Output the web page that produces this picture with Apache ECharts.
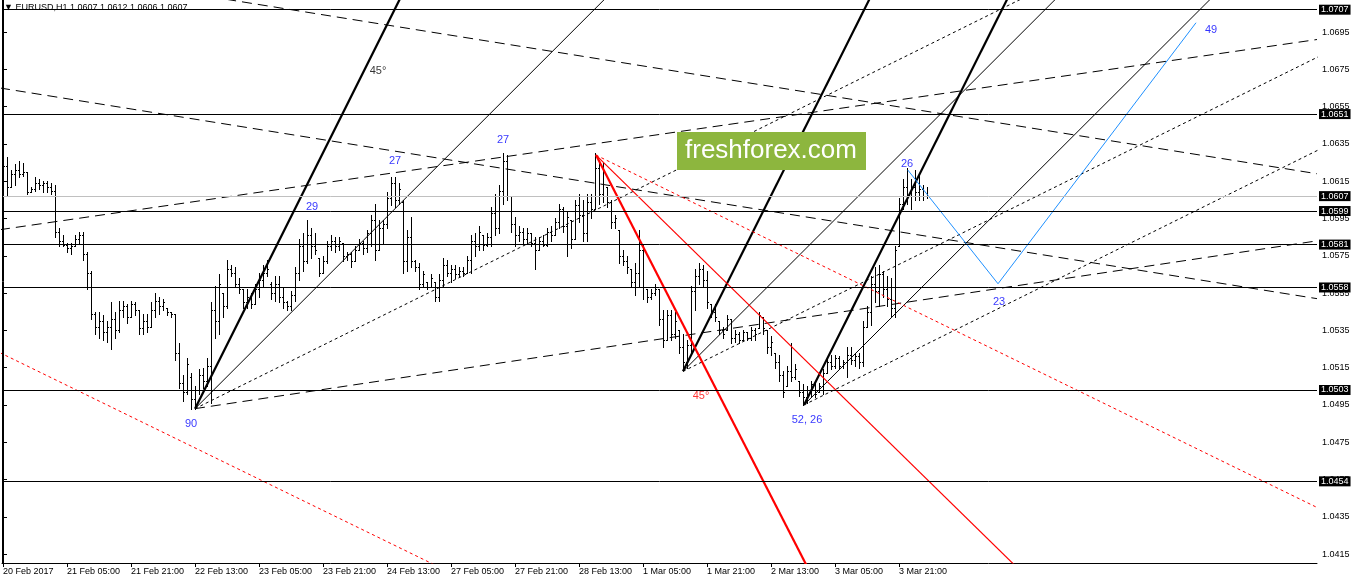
<!DOCTYPE html>
<html><head><meta charset="utf-8">
<script src="https://cdn.jsdelivr.net/npm/echarts@6/dist/echarts.min.js"></script>
<style>html,body{margin:0;padding:0;background:#fff}#c{width:1358px;height:584px}</style>
</head><body><div id="c"></div>
<script>
// ---- data ----
const xLabels = ['20 Feb 2017','21 Feb 05:00','21 Feb 21:00','22 Feb 13:00','23 Feb 05:00','23 Feb 21:00','24 Feb 13:00','27 Feb 05:00','27 Feb 21:00','28 Feb 13:00','1 Mar 05:00','1 Mar 21:00','2 Mar 13:00','3 Mar 05:00','3 Mar 21:00'];
const xLabelBars = [0,16,32,48,64,80,96,112,128,144,160,176,192,208,224];
const yTickLabels = [1.0415,1.0435,1.0455,1.0475,1.0495,1.0515,1.0535,1.0555,1.0575,1.0595,1.0615,1.0635,1.0655,1.0675,1.0695];
const levels = [1.0707,1.0651,1.0599,1.0581,1.0558,1.0503,1.0454];
const bid = 1.0607;
// [open, high, low, close] per hourly bar
const ohlc = [
[1.0618,1.0625,1.0617,1.0623],[1.0623,1.0628,1.0607,1.0612],[1.0612,1.0621,1.0612,1.0619],[1.0619,1.0624,1.0613,1.0621],
[1.0621,1.0626,1.0617,1.0619],[1.0619,1.0625,1.0618,1.0620],[1.0620,1.0620,1.0608,1.0609],[1.0609,1.0612,1.0609,1.0611],
[1.0611,1.0617,1.0610,1.0614],[1.0614,1.0616,1.0611,1.0613],[1.0613,1.0615,1.0609,1.0614],[1.0614,1.0615,1.0609,1.0612],
[1.0612,1.0614,1.0608,1.0610],[1.0610,1.0613,1.0585,1.0588],[1.0588,1.0590,1.0580,1.0583],[1.0583,1.0586,1.0580,1.0581],
[1.0581,1.0582,1.0577,1.0579],[1.0579,1.0582,1.0576,1.0580],[1.0580,1.0586,1.0580,1.0584],[1.0584,1.0588,1.0582,1.0586],
[1.0586,1.0588,1.0573,1.0576],[1.0576,1.0577,1.0557,1.0566],[1.0566,1.0567,1.0541,1.0544],[1.0544,1.0545,1.0533,1.0537],
[1.0537,1.0545,1.0531,1.0540],[1.0540,1.0543,1.0530,1.0534],[1.0534,1.0540,1.0529,1.0537],[1.0537,1.0550,1.0525,1.0541],
[1.0541,1.0545,1.0531,1.0535],[1.0535,1.0551,1.0534,1.0546],[1.0546,1.0551,1.0542,1.0548],[1.0548,1.0549,1.0539,1.0542],
[1.0542,1.0551,1.0542,1.0549],[1.0549,1.0550,1.0543,1.0546],[1.0546,1.0546,1.0533,1.0536],[1.0536,1.0544,1.0533,1.0540],
[1.0540,1.0544,1.0534,1.0537],[1.0537,1.0550,1.0537,1.0546],[1.0546,1.0555,1.0542,1.0551],[1.0551,1.0553,1.0544,1.0548],
[1.0548,1.0552,1.0546,1.0550],[1.0547,1.0547,1.0543,1.0545],[1.0545,1.0545,1.0542,1.0544],[1.0544,1.0544,1.0519,1.0523],
[1.0523,1.0528,1.0504,1.0507],[1.0507,1.0511,1.0497,1.0502],[1.0502,1.0520,1.0501,1.0517],[1.0510,1.0512,1.0493,1.0498],
[1.0498,1.0505,1.0493,1.0503],[1.0503,1.0514,1.0501,1.0511],[1.0511,1.0515,1.0504,1.0508],[1.0508,1.0520,1.0505,1.0516],
[1.0516,1.0550,1.0496,1.0546],[1.0546,1.0559,1.0531,1.0540],[1.0540,1.0565,1.0533,1.0560],[1.0555,1.0555,1.0542,1.0548],
[1.0548,1.0573,1.0547,1.0568],[1.0568,1.0570,1.0564,1.0566],[1.0566,1.0569,1.0558,1.0560],[1.0560,1.0563,1.0555,1.0557],
[1.0557,1.0557,1.0547,1.0550],[1.0550,1.0557,1.0547,1.0553],[1.0553,1.0555,1.0547,1.0549],[1.0549,1.0560,1.0549,1.0557],
[1.0557,1.0566,1.0553,1.0562],[1.0562,1.0570,1.0558,1.0566],[1.0566,1.0573,1.0564,1.0568],[1.0560,1.0561,1.0552,1.0555],
[1.0555,1.0564,1.0551,1.0560],[1.0560,1.0564,1.0550,1.0553],[1.0553,1.0558,1.0547,1.0550],[1.0550,1.0551,1.0546,1.0548],
[1.0548,1.0556,1.0546,1.0554],[1.0554,1.0569,1.0551,1.0566],[1.0566,1.0584,1.0562,1.0580],[1.0580,1.0587,1.0567,1.0572],
[1.0572,1.0594,1.0571,1.0586],[1.0586,1.0590,1.0574,1.0580],[1.0580,1.0587,1.0576,1.0578],[1.0574,1.0574,1.0564,1.0566],
[1.0566,1.0575,1.0566,1.0572],[1.0572,1.0583,1.0571,1.0580],[1.0580,1.0586,1.0578,1.0583],[1.0583,1.0585,1.0577,1.0580],
[1.0580,1.0585,1.0578,1.0583],[1.0582,1.0582,1.0572,1.0575],[1.0575,1.0577,1.0573,1.0576],[1.0576,1.0577,1.0569,1.0572],
[1.0572,1.0580,1.0572,1.0578],[1.0578,1.0584,1.0578,1.0582],[1.0582,1.0583,1.0576,1.0579],[1.0579,1.0589,1.0577,1.0587],
[1.0587,1.0597,1.0580,1.0594],[1.0594,1.0603,1.0573,1.0578],[1.0578,1.0594,1.0578,1.0590],[1.0590,1.0594,1.0582,1.0592],
[1.0592,1.0609,1.0590,1.0606],[1.0606,1.0617,1.0602,1.0614],[1.0614,1.0617,1.0601,1.0605],[1.0605,1.0614,1.0603,1.0611],
[1.0604,1.0605,1.0566,1.0572],[1.0572,1.0589,1.0567,1.0585],[1.0585,1.0596,1.0569,1.0572],[1.0572,1.0573,1.0567,1.0569],
[1.0569,1.0571,1.0557,1.0560],[1.0560,1.0567,1.0558,1.0565],[1.0561,1.0561,1.0557,1.0558],[1.0558,1.0565,1.0558,1.0563],
[1.0561,1.0561,1.0551,1.0553],[1.0553,1.0565,1.0551,1.0562],[1.0562,1.0574,1.0558,1.0570],[1.0570,1.0573,1.0564,1.0566],
[1.0566,1.0570,1.0561,1.0568],[1.0568,1.0570,1.0563,1.0565],[1.0565,1.0569,1.0564,1.0567],[1.0567,1.0569,1.0564,1.0566],
[1.0566,1.0575,1.0566,1.0573],[1.0573,1.0586,1.0566,1.0583],[1.0583,1.0587,1.0575,1.0580],[1.0580,1.0591,1.0578,1.0588],
[1.0586,1.0586,1.0578,1.0581],[1.0581,1.0587,1.0580,1.0585],[1.0585,1.0601,1.0580,1.0598],[1.0598,1.0608,1.0586,1.0590],
[1.0590,1.0613,1.0587,1.0610],[1.0610,1.0630,1.0603,1.0626],[1.0626,1.0629,1.0605,1.0607],[1.0607,1.0607,1.0588,1.0592],
[1.0592,1.0596,1.0580,1.0586],[1.0586,1.0591,1.0583,1.0588],[1.0588,1.0590,1.0582,1.0584],[1.0584,1.0590,1.0582,1.0587],
[1.0587,1.0587,1.0580,1.0582],[1.0582,1.0585,1.0568,1.0578],[1.0578,1.0585,1.0578,1.0583],[1.0583,1.0586,1.0580,1.0581],
[1.0581,1.0590,1.0580,1.0588],[1.0588,1.0591,1.0583,1.0586],[1.0586,1.0595,1.0586,1.0593],[1.0593,1.0603,1.0590,1.0600],
[1.0600,1.0601,1.0588,1.0591],[1.0591,1.0599,1.0575,1.0596],[1.0594,1.0594,1.0579,1.0584],[1.0584,1.0605,1.0584,1.0602],
[1.0602,1.0608,1.0593,1.0597],[1.0597,1.0605,1.0583,1.0587],[1.0587,1.0608,1.0583,1.0604],[1.0604,1.0608,1.0595,1.0600],
[1.0600,1.0630,1.0600,1.0622],[1.0622,1.0626,1.0603,1.0608],[1.0608,1.0625,1.0604,1.0620],[1.0612,1.0612,1.0601,1.0604],
[1.0604,1.0605,1.0590,1.0593],[1.0593,1.0597,1.0590,1.0595],[1.0589,1.0589,1.0571,1.0575],[1.0575,1.0578,1.0570,1.0572],
[1.0572,1.0575,1.0566,1.0569],[1.0568,1.0568,1.0558,1.0561],[1.0561,1.0571,1.0554,1.0566],[1.0566,1.0589,1.0558,1.0578],
[1.0578,1.0581,1.0552,1.0558],[1.0557,1.0557,1.0550,1.0553],[1.0553,1.0557,1.0552,1.0555],[1.0555,1.0560,1.0554,1.0557],
[1.0557,1.0557,1.0538,1.0541],[1.0541,1.0546,1.0526,1.0530],[1.0530,1.0546,1.0530,1.0543],[1.0543,1.0546,1.0530,1.0533],
[1.0533,1.0545,1.0531,1.0540],[1.0535,1.0535,1.0523,1.0526],[1.0526,1.0533,1.0514,1.0518],[1.0518,1.0530,1.0515,1.0527],
[1.0527,1.0559,1.0523,1.0556],[1.0556,1.0568,1.0546,1.0564],[1.0564,1.0571,1.0560,1.0568],[1.0568,1.0570,1.0558,1.0562],
[1.0562,1.0567,1.0547,1.0550],[1.0549,1.0549,1.0542,1.0545],[1.0545,1.0549,1.0540,1.0542],[1.0540,1.0540,1.0533,1.0535],
[1.0535,1.0537,1.0531,1.0533],[1.0535,1.0543,1.0535,1.0541],[1.0541,1.0541,1.0528,1.0531],[1.0531,1.0535,1.0529,1.0533],
[1.0533,1.0534,1.0528,1.0530],[1.0530,1.0535,1.0530,1.0534],[1.0534,1.0534,1.0530,1.0531],[1.0531,1.0537,1.0530,1.0535],
[1.0535,1.0536,1.0530,1.0533],[1.0536,1.0545,1.0536,1.0543],[1.0542,1.0542,1.0533,1.0536],[1.0535,1.0535,1.0523,1.0526],
[1.0526,1.0532,1.0522,1.0529],[1.0523,1.0523,1.0515,1.0518],[1.0518,1.0522,1.0508,1.0511],[1.0511,1.0513,1.0499,1.0502],
[1.0505,1.0516,1.0505,1.0513],[1.0513,1.0528,1.0508,1.0510],[1.0510,1.0517,1.0509,1.0514],[1.0508,1.0508,1.0500,1.0502],
[1.0502,1.0506,1.0495,1.0499],[1.0499,1.0505,1.0496,1.0503],[1.0503,1.0508,1.0499,1.0506],[1.0506,1.0507,1.0499,1.0501],
[1.0502,1.0507,1.0502,1.0505],[1.0505,1.0514,1.0501,1.0512],[1.0512,1.0520,1.0512,1.0518],[1.0518,1.0522,1.0514,1.0516],
[1.0516,1.0522,1.0515,1.0520],[1.0520,1.0521,1.0514,1.0516],[1.0516,1.0519,1.0515,1.0518],[1.0518,1.0526,1.0510,1.0522],
[1.0522,1.0526,1.0517,1.0519],[1.0519,1.0523,1.0516,1.0521],[1.0521,1.0523,1.0515,1.0518],[1.0518,1.0540,1.0516,1.0537],
[1.0537,1.0548,1.0537,1.0545],[1.0545,1.0564,1.0538,1.0560],[1.0560,1.0569,1.0550,1.0556],[1.0556,1.0570,1.0548,1.0565],
[1.0565,1.0567,1.0553,1.0557],[1.0557,1.0564,1.0548,1.0552],[1.0552,1.0563,1.0542,1.0547],[1.0547,1.0580,1.0542,1.0578],
[1.0580,1.0606,1.0580,1.0603],[1.0603,1.0616,1.0600,1.0612],[1.0612,1.0622,1.0603,1.0607],[1.0607,1.0616,1.0600,1.0612],
[1.0612,1.0621,1.0605,1.0609],[1.0609,1.0618,1.0605,1.0611],[1.0611,1.0613,1.0605,1.0607],[1.0607,1.0612,1.0606,1.0607]
];
// trend objects as [[bar, price],[bar, price]]
const thickBlackLines = [[[48,1.0493],[110,1.0759]],[[170,1.0513],[230,1.0770]],[[200.25,1.0495],[260,1.0751]]];
const thinBlackLines  = [[[48,1.0493],[200,1.0819]],[[170,1.0513],[330,1.0856]],[[200.25,1.0495],[330,1.0773]]];
const dottedBlackLines= [[[48,1.0493],[330,1.0793]],[[170,1.0513],[330,1.0683]],[[200.25,1.0495],[330,1.0633]]];
const dashedBlackLines= [[[48,1.0493],[328.5,1.0583]],[[-0.75,1.0589],[328.5,1.0691]],[[-0.75,1.0665],[328.5,1.0552]],[[40,1.0718],[328.5,1.0619]]];
const thickRedLines   = [[[148.25,1.0629],[220,1.0329]]];
const thinRedLines    = [[[148.25,1.0629],[330,1.0247]]];
const dottedRedLines  = [[[148.25,1.0629],[328.5,1.0440]],[[-0.75,1.0523],[110,1.0407]]];
const bluePath = [[226.2,1.0621],[248.75,1.0560],[298.25,1.0700]];
const blueNotes = [[47,1.0485,'90'],[77.25,1.0601,'29'],[98,1.0626,'27'],[125,1.0637,'27'],[226,1.0624,'26'],[249,1.0550,'23'],[302,1.0696,'49'],[201,1.0487,'52, 26']];
const blackNotes = [[93.75,1.0674,'45°']];
const redNotes = [[174.5,1.0500,'45°']];
const header = 'EURUSD,H1 1.0607 1.0612 1.0606 1.0607';

// ---- chart ----
const FONT = 'Liberation Sans';
const chart = echarts.init(document.getElementById('c'), null, {renderer:'canvas'});
const series = [];
function addLines(list, style) {
  list.forEach(seg => series.push({type:'line', data:seg, showSymbol:false, symbol:'none', silent:true, clip:true, z:3,
    color:style.color, itemStyle:{color:style.color}, lineStyle:style, emphasis:{disabled:true}, animation:false}));
}
addLines(thickBlackLines, {color:'#000000', width:2.2});
addLines(thinBlackLines, {color:'#000000', width:1});
addLines(dottedBlackLines, {color:'#000000', width:1, type:[3,3]});
addLines(dashedBlackLines, {color:'#000000', width:1, type:[10,6]});
addLines(thickRedLines, {color:'#ff0000', width:2.2});
addLines(thinRedLines, {color:'#ff0000', width:1.2});
addLines(dottedRedLines, {color:'#ff0000', width:1, type:[3,3]});
addLines([bluePath], {color:'#1E90FF', width:1});

series.push({
  type:'custom', z:2, silent:true,
  data: ohlc.map((b,i)=>[i,b[0],b[1],b[2],b[3]]),
  encode:{x:0, y:[2,3]},
  renderItem:function(params, api){
    const h = api.coord([api.value(0), api.value(2)]);
    const l = api.coord([api.value(0), api.value(3)]);
    const o = api.coord([api.value(0), api.value(1)]);
    const c = api.coord([api.value(0), api.value(4)]);
    const px = Math.round(h[0]);
    const yt = Math.round(h[1]), yb = Math.round(l[1]);
    return {type:'group', children:[
      {type:'rect', shape:{x:px, y:yt, width:1, height:Math.max(1, yb-yt+1)}, style:{fill:'#000'}},
      {type:'rect', shape:{x:px-1, y:Math.round(o[1]), width:1, height:1}, style:{fill:'#000'}},
      {type:'rect', shape:{x:px+1, y:Math.round(c[1]), width:1, height:1}, style:{fill:'#000'}}
    ]};
  }
});

const boxLabel = {show:true, position:'end', distance:2, formatter:p=>Number(p.value).toFixed(4), color:'#fff', backgroundColor:'#000', padding:[1,2,0,2], fontSize:9, fontFamily:FONT};
series.push({
  type:'line', data:[], z:4,
  markLine:{symbol:'none', silent:true, animation:false, precision:4,
    data: levels.map(v=>({yAxis:v, lineStyle:{color:'#000', width:1, type:'solid'}, label:boxLabel}))
      .concat([{yAxis:bid, lineStyle:{color:'#c0c0c0', width:1, type:'solid'}, label:boxLabel}])
  }
});
function notes(list, color) {
  series.push({type:'scatter', symbolSize:0, silent:true, z:5,
    data:list.map(n=>({value:[n[0],n[1]], name:n[2]})),
    label:{show:true, position:'inside', formatter:'{b}', color:color, fontSize:11, fontFamily:FONT}});
}
notes(blueNotes, '#0000ff');
notes(blackNotes, '#000');
notes(redNotes, '#ff0000');

chart.setOption({
  animation:false,
  backgroundColor:'#fff',
  grid:{left:2, right:41, top:0, bottom:21, show:false},
  xAxis:{type:'value', min:-0.25, max:328.5,
    axisLine:{show:true, lineStyle:{color:'#000'}},
    axisTick:{show:true, length:4, inside:false, customValues:xLabelBars, lineStyle:{color:'#000'}},
    axisLabel:{show:true, customValues:xLabelBars, formatter:v=>xLabels[xLabelBars.indexOf(v)]||'', align:'left', margin:4, color:'#000', fontSize:9, fontFamily:FONT},
    splitLine:{show:false}},
  yAxis:{type:'value', position:'right', min:1.04102, max:1.07122,
    axisLine:{show:true, lineStyle:{color:'#000'}},
    axisTick:{show:true, length:4, customValues:yTickLabels, lineStyle:{color:'#000'}},
    axisLabel:{show:true, customValues:yTickLabels, formatter:v=>v.toFixed(4), margin:5, color:'#000', fontSize:9, fontFamily:FONT},
    splitLine:{show:false}},
  graphic:[
    {type:'line', shape:{x1:2.5, y1:0, x2:2.5, y2:563}, style:{stroke:'#000', lineWidth:1}, z:10},
    {type:'rect', shape:{x:677, y:132, width:189, height:38}, style:{fill:'#8DB63E'}, z:10},
    {type:'text', x:685, y:151, style:{text:'freshforex.com', fill:'#fff', font:'26px "Liberation Sans"', verticalAlign:'middle'}, z:11},
    {type:'text', x:4, y:8, style:{text:'\u25BC '+header, fill:'#000', font:'9px "Liberation Sans"', verticalAlign:'middle'}, z:11}
  ],
  series:series
});
</script></body></html>
